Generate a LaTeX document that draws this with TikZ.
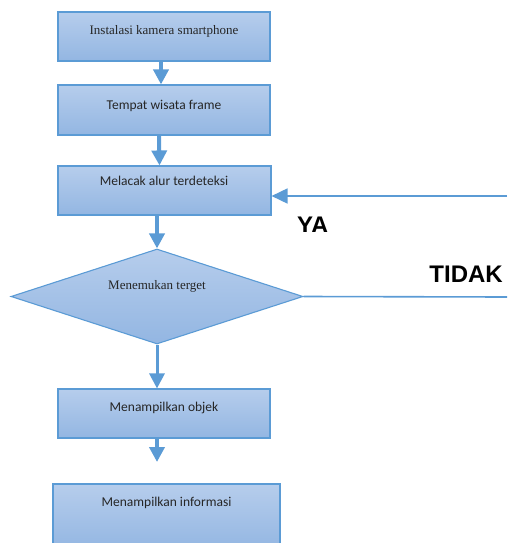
\documentclass[tikz,border=0pt]{standalone}
\usepackage{fontspec}
\setmainfont{Liberation Serif}
\newfontfamily\calibri{Carlito}
\newfontfamily\arialf{Liberation Sans}
\usetikzlibrary{arrows.meta,calc,shapes.geometric}
\definecolor{edge}{HTML}{5B9BD5}
\definecolor{ftop}{HTML}{B6CDEC}
\definecolor{fbot}{HTML}{93B6E2}
\tikzset{
  box/.style={draw=edge, line width=1.1pt, top color=ftop, bottom color=fbot, rectangle, inner sep=0pt},
  dia/.style={draw=edge, line width=1.1pt, top color=ftop, bottom color=fbot, diamond, inner sep=0pt, aspect=3.07},
  serif/.style={font=\fontsize{13}{15}\selectfont, text=black!85},
  sans/.style={font=\calibri\fontsize{13.5}{15}\selectfont, text=black!85},
  big/.style={font=\arialf\bfseries\fontsize{24}{26}\selectfont, text=black},
  flow/.style={draw=edge, line width=4pt, -{Triangle[length=15pt,width=15pt]}},
  thin/.style={draw=edge, line width=1.6pt},
}
\begin{document}
\begin{tikzpicture}[x=1pt,y=-1pt]
\useasboundingbox (0,0) rectangle (507,543);
\clip (0,0) rectangle (507,543);
% boxes
\node[box, minimum width=212pt, minimum height=49pt] (b1) at (164,36.5) {};
\node[box, minimum width=212pt, minimum height=50pt] (b2) at (164,110) {};
\node[box, minimum width=213pt, minimum height=49pt] (b3) at (164.5,190.5) {};
\node[dia, minimum width=292pt, minimum height=95pt] (d) at (157,296.5) {};
\node[box, minimum width=212pt, minimum height=49pt] (b4) at (164,413.5) {};
\node[box, minimum width=227pt, minimum height=66pt] (b5) at (166.5,517) {};
% texts
\node[serif] (t1) at (164,31) {Instalasi kamera smartphone};
\node[sans] (t2) at (164,106) {Tempat wisata frame};
\node[sans] (t3) at (164,181) {Melacak alur terdeteksi};
\node[serif] (t4) at (157,286) {Menemukan terget};
\node[sans] (t5) at (164,408) {Menampilkan objek};
\node[sans] (t6) at (166.5,503) {Menampilkan informasi};
\begin{scope}
\clip (280,200) rectangle (350,231);
\node[big, anchor=north west, inner sep=0pt] (ya) at (297,217) {YA};
\end{scope}
\node[big, anchor=north east, inner sep=0pt] (tidak) at (503,266) {TIDAK};
% coordinates
\coordinate (r1) at (507,196);
\coordinate (r2) at (507,297);
\coordinate (e5) at (157,462);
% connectors
\draw[flow] ($(b1.south)+(-3,0)$) -- ($(b2.north)+(-3,0)$);
\draw[flow] ($(b2.south)+(-5,0)$) -- ($(b3.north)+(-5,0)$);
\draw[flow] (b3.south -| d.north) -- (d.north);
\draw[flow, line width=3pt] (d.south) -- (b4.north -| d.south);
\draw[flow] (b4.south -| d.south) -- (e5);
\draw[thin, -{Triangle[length=16pt,width=15pt]}] (r1) -- (b3.east |- r1);
\draw[thin] (d.east) -- (r2);
\end{tikzpicture}
\end{document}
